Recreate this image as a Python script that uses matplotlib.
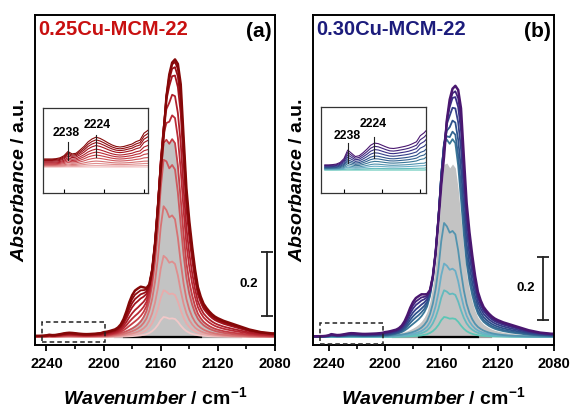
import numpy as np
import matplotlib
matplotlib.use('Agg')
import matplotlib.pyplot as plt
from matplotlib.colors import LinearSegmentedColormap
from matplotlib.patches import Rectangle
from matplotlib.ticker import MultipleLocator, FixedLocator

plt.rcParams['font.family'] = ['Liberation Sans', 'DejaVu Sans']
plt.rcParams['font.weight'] = 'bold'
plt.rcParams['mathtext.fontset'] = 'custom'
plt.rcParams['mathtext.it'] = 'Liberation Sans:italic:bold'
plt.rcParams['mathtext.rm'] = 'Liberation Sans:bold'
plt.rcParams['mathtext.bf'] = 'Liberation Sans:bold'

# ---------------- data ----------------
WN_START, WN_END, WN_STEP = 2250, 2080, 2
wavenumber = np.arange(WN_START, WN_END - 1, -WN_STEP)

# main CO band, high coverage profile (top curve of panel a), from 2200 down to 2080
high_start = 2200
high_profile = [0.002, 0.003, 0.005, 0.008, 0.011, 0.015, 0.020, 0.026, 0.033, 0.041,
                0.050, 0.060, 0.070, 0.082, 0.095, 0.115, 0.145, 0.200, 0.285, 0.400,
                0.520, 0.620, 0.745, 0.815, 0.852, 0.862, 0.848, 0.785, 0.620, 0.460,
                0.360, 0.280, 0.210, 0.155, 0.125, 0.103, 0.090, 0.079, 0.070, 0.063,
                0.058, 0.054, 0.050, 0.047, 0.044, 0.041, 0.038, 0.035, 0.032, 0.029,
                0.026, 0.023, 0.021, 0.019, 0.017, 0.015, 0.014, 0.013, 0.012, 0.011,
                0.011]
# main CO band, low coverage profile (doublet 2158/2151), from 2200 down to 2080
low_start = 2200
low_profile = [0.0, 0.0, 0.002, 0.004, 0.007, 0.010, 0.014, 0.019, 0.025, 0.032,
               0.040, 0.050, 0.063, 0.080, 0.105, 0.140, 0.200, 0.290, 0.420, 0.600,
               0.840, 1.000, 0.970, 0.915, 0.930, 0.900, 0.760, 0.570, 0.410, 0.290,
               0.210, 0.155, 0.115, 0.088, 0.070, 0.056, 0.046, 0.038, 0.032, 0.027,
               0.023, 0.020, 0.017, 0.015, 0.013, 0.011, 0.010, 0.009, 0.008, 0.007,
               0.006, 0.005, 0.0045, 0.004, 0.0035, 0.003, 0.003, 0.0025, 0.002, 0.002,
               0.002]
# 2178 band profile, from 2192 down to 2162
b2178_start = 2192
b2178_profile = [0.0, 0.03, 0.10, 0.25, 0.48, 0.75, 0.93, 1.00, 0.97, 0.90,
                 0.72, 0.45, 0.22, 0.09, 0.03, 0.0]
# weak bands 2238 / 2224 region (inset), from 2250 down
base_start = 2250
base_profile_a = [0.27, 0.27, 0.27, 0.28, 0.31, 0.38, 0.52, 0.44, 0.46, 0.57,
                  0.69, 0.84, 0.94, 1.00, 0.96, 0.89, 0.81, 0.74, 0.69, 0.67,
                  0.69, 0.73, 0.77, 0.85, 0.90, 0.98, 1.00, 1.00, 0.98, 0.95,
                  0.90, 0.84, 0.77, 0.70, 0.62, 0.54, 0.46, 0.38, 0.30, 0.22,
                  0.14, 0.07, 0.02, 0.0]
base_profile_b = [0.19, 0.19, 0.20, 0.22, 0.28, 0.42, 0.74, 0.62, 0.50, 0.53,
                  0.64, 0.77, 0.92, 1.00, 0.98, 0.92, 0.86, 0.81, 0.80, 0.82,
                  0.85, 0.88, 0.92, 0.98, 1.05, 1.12, 1.15, 1.15, 1.12, 1.08,
                  1.02, 0.95, 0.86, 0.77, 0.67, 0.57, 0.47, 0.38, 0.29, 0.20,
                  0.12, 0.06, 0.02, 0.0]
base_top_a = 0.013
base_top_b = 0.0117

# panel (a) 0.25Cu-MCM-22 : per-spectrum amplitudes
a_low = [0.062, 0.145, 0.252, 0.406, 0.50, 0.48, 0.40, 0.32, 0.18, 0.12, 0.06, 0.0]
a_high = [0.0, 0.0, 0.0, 0.0, 0.07, 0.17, 0.32, 0.46, 0.65, 0.73, 0.80, 0.862]
a_2178 = [0.0, 0.0, 0.0, 0.0, 0.0, 0.01, 0.02, 0.032, 0.045, 0.056, 0.067, 0.078]
a_base = [0.0, 0.05, 0.12, 0.20, 0.30, 0.40, 0.50, 0.60, 0.72, 0.82, 0.91, 1.0]
a_gray = (0.47, 0.18)

# panel (b) 0.30Cu-MCM-22
b_low = [0.062, 0.145, 0.228, 0.354, 0.48, 0.42, 0.34, 0.25, 0.15, 0.07, 0.0]
b_high = [0.0, 0.0, 0.0, 0.0, 0.17, 0.25, 0.36, 0.485, 0.61, 0.70, 0.78]
b_2178 = [0.0, 0.0, 0.0, 0.0, 0.01, 0.02, 0.028, 0.036, 0.045, 0.053, 0.061]
b_base = [0.0, 0.06, 0.14, 0.22, 0.32, 0.42, 0.52, 0.64, 0.76, 0.88, 1.0]
b_gray = (0.45, 0.12)

xticks_main = [2240, 2200, 2160, 2120, 2080]
inset_labels = ['2238', '2224']
scale_bar_value = 0.2


def place(start, values):
    arr = np.zeros_like(wavenumber, dtype=float)
    i0 = (WN_START - start) // WN_STEP
    arr[i0:i0 + len(values)] = values
    return arr


HIGH = place(high_start, high_profile)
HIGH = HIGH / HIGH.max()
LOW = place(low_start, low_profile)
B2178 = place(b2178_start, b2178_profile)
BASE_A = place(base_start, base_profile_a) * base_top_a
BASE_B = place(base_start, base_profile_b) * base_top_b


def spectra(lows, highs, b78, bases, base):
    return [l * LOW + h * HIGH + c * B2178 + b * base
            for l, h, c, b in zip(lows, highs, b78, bases)]


spec_a = spectra(a_low, a_high, a_2178, a_base, BASE_A)
spec_b = spectra(b_low, b_high, b_2178, b_base, BASE_B)
gray_a = a_gray[0] * LOW + a_gray[1] * HIGH + 0.4 * BASE_A
gray_b = b_gray[0] * LOW + b_gray[1] * HIGH + 0.4 * BASE_B

cmap_a = LinearSegmentedColormap.from_list('reds', ['#f2c8c8', '#d97878', '#c0303a', '#a0101c', '#850808'])
cmap_b = LinearSegmentedColormap.from_list('tealpurple', ['#5cc6b6', '#6aaec6', '#3b7898', '#2d528c', '#3a2f86', '#4a1770'])

# ---------------- figure ----------------
fig = plt.figure(figsize=(5.75, 4.07), dpi=100)
W, H = 575, 407


def fig_axes(l, r, t, b):
    return fig.add_axes([l / W, 1 - b / H, (r - l) / W, (b - t) / H])


panels = [
    dict(ax=fig_axes(35, 275, 15, 345), spec=spec_a, gray=gray_a, cmap=cmap_a,
         xlim=(2248, 2080), title='0.25Cu-MCM-22', tcolor='#c81010', tag='(a)',
         black=(2186, 2132), grayline=(2192, 2104),
         rect=(2243, 2199, -0.015, 0.046), bar_x=2085.6, bar_y=(0.065, 0.265),
         inset=(43, 148, 108, 193), ixlim=(2250.5, 2198), iylim=(-0.0113, 0.0257),
         ann=[(2239, 0.0148, 2238, 0.003, 0.0109), (2223.5, 0.0183, 2224, 0.0043, 0.0139)]),
    dict(ax=fig_axes(313, 554, 15, 345), spec=spec_b, gray=gray_b, cmap=cmap_b,
         xlim=(2251, 2080), title='0.30Cu-MCM-22', tcolor='#1c1c7c', tag='(b)',
         black=(2176, 2134), grayline=(2194, 2125),
         rect=(2246, 2201, -0.021, 0.043), bar_x=2087.8, bar_y=(0.052, 0.249),
         inset=(321, 426, 107, 193), ixlim=(2252, 2197), iylim=(-0.010, 0.0274),
         ann=[(2238.4, 0.0148, 2238, 0.003, 0.0117), (2224.8, 0.020, 2224, 0.0052, 0.0143)]),
]

for p in panels:
    ax = p['ax']
    n = len(p['spec'])
    ax.fill_between(wavenumber, 0, p['gray'], color='#c3c3c3', lw=0, zorder=1)
    ax.plot(p['grayline'], [0, 0], color='#9a9a9a', lw=1.6, zorder=1.5)
    ax.plot(p['black'], [0, 0], color='black', lw=1.6, zorder=1.6)
    for i, s in enumerate(p['spec']):
        c = p['cmap'](i / (n - 1))
        ax.plot(wavenumber, s, color=c, lw=1.3 if i < n - 1 else 1.8, zorder=2 + i * 0.01)
    ax.set_xlim(*p['xlim'])
    ax.set_ylim(-0.025, 1.0)
    ax.set_yticks([])
    ax.xaxis.set_major_locator(FixedLocator(xticks_main))
    ax.xaxis.set_minor_locator(MultipleLocator(20))
    ax.tick_params(axis='x', which='major', direction='out', length=4, width=1.3,
                   labelsize=10.5, pad=5)
    ax.tick_params(axis='x', which='minor', direction='out', length=3, width=1.2)
    for lab in ax.get_xticklabels():
        lab.set_fontweight('bold')
    for sp in ax.spines.values():
        sp.set_linewidth(1.4)
    # dashed rectangle
    x0, x1, y0, y1 = p['rect']
    ax.add_patch(Rectangle((x0, y0), x1 - x0, y1 - y0, fill=False, ls=(0, (3, 2)),
                           lw=1.1, ec='#222222', zorder=5, clip_on=False))
    # scale bar
    bx = p['bar_x']
    ax.plot([bx, bx], p['bar_y'], color='#222222', lw=1.3, zorder=6)
    ax.plot([bx, bx], p['bar_y'], ls='none', marker='_', ms=8, mew=1.3, color='#222222', zorder=6)
    ax.text(bx + 6, np.mean(p['bar_y']), f'{scale_bar_value:.1f}', ha='right', va='center',
            fontsize=9.5, fontweight='bold')
    # titles
    ax.text(0.012, 0.955, p['title'], transform=ax.transAxes, color=p['tcolor'],
            fontsize=14.5, fontweight='bold', ha='left', va='center')
    ax.text(0.988, 0.95, p['tag'], transform=ax.transAxes, color='black',
            fontsize=15, fontweight='bold', ha='right', va='center')
    ax.text(-0.0625, 0.5, r'$\mathit{Absorbance}$ / a.u.', transform=ax.transAxes,
            rotation=90, ha='center', va='center', fontsize=14, fontweight='bold')
    ax.text(0.5, -0.158, r'$\mathit{Wavenumber}$ / cm$^{-1}$', transform=ax.transAxes,
            ha='center', va='center', fontsize=14, fontweight='bold')

    # inset
    l, r, t, b = p['inset']
    ia = fig_axes(l, r, t, b)
    for i, s in enumerate(p['spec']):
        c = p['cmap'](i / (n - 1))
        ia.plot(wavenumber, s, color=c, lw=0.8)
    ia.set_xlim(*p['ixlim'])
    ia.set_ylim(*p['iylim'])
    ia.set_yticks([])
    ia.xaxis.set_major_locator(FixedLocator([2240, 2220, 2200]))
    ia.tick_params(axis='x', direction='in', length=3, width=0.8, labelbottom=False)
    for sp in ia.spines.values():
        sp.set_linewidth(0.9)
        sp.set_color('#333333')
    for (tx, ty, lx, ly0, ly1), lab in zip(p['ann'], inset_labels):
        ia.plot([lx, lx], [ly0, ly1], color='#222222', lw=0.8)
        ia.text(tx, ty, lab, ha='center', va='center', fontsize=8.8, fontweight='bold')

fig.savefig('out.png', dpi=100)
